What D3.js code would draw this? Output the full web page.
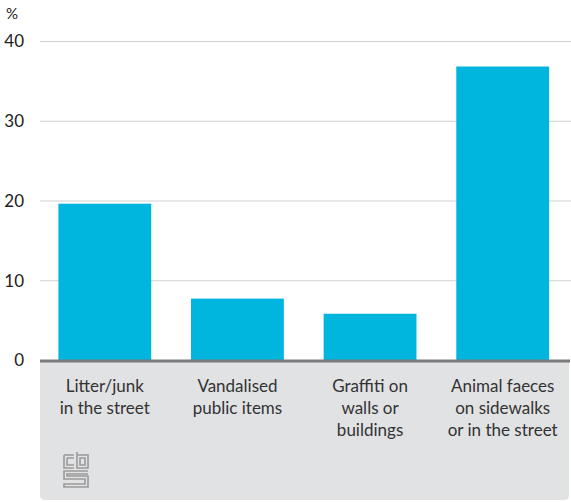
<!DOCTYPE html>
<html><head><meta charset="utf-8">
<script src="https://cdn.jsdelivr.net/npm/d3@7/dist/d3.min.js"></script>
<style>body{margin:0;background:#fff;} text{font-family:"Lato","Open Sans",sans-serif;}</style>
</head><body><svg id="c" width="571" height="502"></svg>
<script>
const categories = [["Litter/junk","in the street"],["Vandalised","public items"],["Graffiti on","walls or","buildings"],["Animal faeces","on sidewalks","or in the street"]];
const values = [19.6, 7.7, 5.8, 36.8];
const yTicks = [0,10,20,30,40];
const unitLabel = "%";

const svg = d3.select("#c");
const x = d3.scaleBand().domain(d3.range(categories.length)).range([38.5,569]).paddingInner(0.3).paddingOuter(0.15);
const y = d3.scaleLinear().domain([0,40]).range([360,41]);

// grey panel
svg.append("path").attr("fill","#e1e2e3")
  .attr("d", (() => { const l=40,r=569,t=361,b=500,rr=5; return `M${l},${t}H${r}V${b-rr}Q${r},${b} ${r-rr},${b}H${l+rr}Q${l},${b} ${l},${b-rr}Z`; })());

// gridlines
svg.append("g").attr("transform","translate(571,0)").call(d3.axisRight(y).tickValues(yTicks.filter(d=>d>0)).tickSize(-531).tickFormat(""))
  .call(g=>{g.select(".domain").remove(); g.selectAll("line").attr("stroke","#d0d0d0").attr("stroke-width",1);});

// y labels
svg.append("g").attr("transform","translate(24,0)").call(d3.axisLeft(y).tickValues(yTicks).tickSize(0).tickPadding(0))
  .call(g=>{g.select(".domain").remove(); g.selectAll("text").attr("font-size",17).attr("font-family","Lato, sans-serif").attr("fill","#222").attr("dy","0.34em");});
svg.append("text").attr("x",6).attr("y",19).attr("font-size",15).attr("fill","#222").text(unitLabel);

// bars
svg.append("g").selectAll("rect").data(values).join("rect")
  .attr("x",(d,i)=>x(i)).attr("width",x.bandwidth())
  .attr("y",d=>y(d)).attr("height",d=>y(0)-y(d)).attr("fill","#00b6de");

// axis line
svg.append("line").attr("x1",40).attr("x2",570).attr("y1",y(0)+1).attr("y2",y(0)+1).attr("stroke","#7a7a7a").attr("stroke-width",3);

// category labels
const lab = svg.append("g").selectAll("text").data(categories).join("text")
  .attr("x",(d,i)=>x(i)+x.bandwidth()/2).attr("y",392).attr("text-anchor","middle").attr("font-size",17).attr("fill","#333");
lab.selectAll("tspan").data(d=>d).join("tspan").attr("x",function(){return this.parentNode.getAttribute("x");})
  .attr("dy",(d,i)=>i===0?0:22).text(d=>d);

// CBS logo (approximation)
const lg = svg.append("g").attr("transform","translate(63,452)").attr("fill","none").attr("stroke","#9a9a9a").attr("stroke-width",1.6);
lg.append("path").attr("d","M1,3V16H11M1,3H11 M4,6V13H11 M4,6H11");
lg.append("path").attr("d","M14,0V16H25V3H14 M17,6H22V13H17Z");
lg.append("path").attr("d","M25,19H1V27H22V32H1V35H25V24H4V22H25 M1,22V19");
</script></body></html>
